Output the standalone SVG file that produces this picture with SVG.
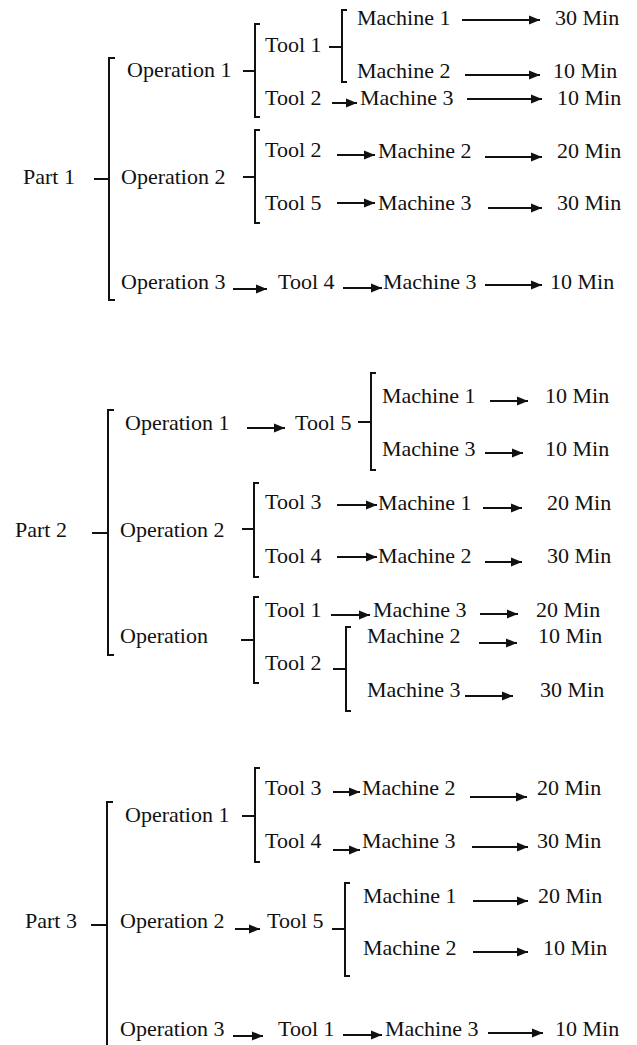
<svg xmlns="http://www.w3.org/2000/svg" width="637" height="1045" viewBox="0 0 637 1045">
<style>
.t text{font-family:'Liberation Serif','Times New Roman',Times,serif;font-size:22px;fill:#111}
.c{stroke:#111;stroke-width:2;fill:none}
.a{stroke:#111;stroke-width:2;fill:none;marker-end:url(#ah)}
</style>
<defs>
<marker id="ah" markerUnits="userSpaceOnUse" markerWidth="12" markerHeight="10" refX="11" refY="5" orient="auto">
<path d="M0,0.5 L11,5 L0,9.5 z" fill="#111"/>
</marker>
</defs>
<rect width="637" height="1045" fill="#fff"/>
<g id="connectors">
<path class="c" d="M94,179 H108"/>
<path class="c" d="M115,58 H109 V300 H115"/>
<path class="c" d="M243,71 H254"/>
<path class="c" d="M260,24 H255 V117 H260"/>
<path class="c" d="M329,47 H342"/>
<path class="c" d="M347,10 H342 V82 H347"/>
<path class="a" d="M462,20 H540"/>
<path class="a" d="M465,75 H540"/>
<path class="a" d="M332,103 H357"/>
<path class="a" d="M467,99 H542"/>
<path class="c" d="M243,177 H254"/>
<path class="c" d="M260,130 H255 V223 H260"/>
<path class="a" d="M337,155 H375"/>
<path class="a" d="M485,157 H542"/>
<path class="a" d="M337,203 H375"/>
<path class="a" d="M488,208 H542"/>
<path class="a" d="M233,289 H267"/>
<path class="a" d="M343,288 H382"/>
<path class="a" d="M485,285 H542"/>
<path class="c" d="M92,533 H108"/>
<path class="c" d="M114,410 H108 V655 H114"/>
<path class="a" d="M247,428 H285"/>
<path class="c" d="M358,422 H371"/>
<path class="c" d="M376,373 H371 V470 H376"/>
<path class="a" d="M490,401 H528"/>
<path class="a" d="M485,453 H523"/>
<path class="c" d="M242,529 H254"/>
<path class="c" d="M259,483 H254 V577 H259"/>
<path class="a" d="M337,505 H377"/>
<path class="a" d="M483,508 H522"/>
<path class="a" d="M337,557 H377"/>
<path class="a" d="M485,562 H522"/>
<path class="c" d="M241,640 H254"/>
<path class="c" d="M259,597 H254 V683 H259"/>
<path class="a" d="M331,615 H370"/>
<path class="a" d="M480,614 H518"/>
<path class="c" d="M333,669 H346"/>
<path class="c" d="M351,627 H346 V711 H351"/>
<path class="a" d="M479,643 H517"/>
<path class="a" d="M465,696 H513"/>
<path class="c" d="M91,925 H107"/>
<path class="c" d="M113,802 H107 V1045"/>
<path class="c" d="M242,816 H255"/>
<path class="c" d="M260,768 H255 V862 H260"/>
<path class="a" d="M333,792 H360"/>
<path class="a" d="M470,797 H527"/>
<path class="a" d="M333,850 H360"/>
<path class="a" d="M472,847 H528"/>
<path class="a" d="M235,929 H260"/>
<path class="c" d="M332,929 H345"/>
<path class="c" d="M350,883 H345 V976 H350"/>
<path class="a" d="M473,901 H528"/>
<path class="a" d="M473,952 H528"/>
<path class="a" d="M233,1036 H263"/>
<path class="a" d="M343,1035 H382"/>
<path class="a" d="M488,1033 H543"/>
</g>
<g class="t" font-family="Liberation Serif, Times New Roman, serif" font-size="22">
<g id="p1"><text x="23" y="184">Part 1</text></g>
<g id="p1-op1"><text x="127" y="77">Operation 1</text></g>
<g id="p1-op1-t1"><text x="265" y="52">Tool 1</text></g>
<g id="p1-op1-t1-m1"><text x="357" y="25">Machine 1</text></g>
<g id="p1-op1-t1-m1-time"><text x="555" y="25">30 Min</text></g>
<g id="p1-op1-t1-m2"><text x="357" y="78">Machine 2</text></g>
<g id="p1-op1-t1-m2-time"><text x="553" y="78">10 Min</text></g>
<g id="p1-op1-t2"><text x="265" y="105">Tool 2</text></g>
<g id="p1-op1-t2-m3"><text x="360" y="105">Machine 3</text></g>
<g id="p1-op1-t2-m3-time"><text x="557" y="105">10 Min</text></g>
<g id="p1-op2"><text x="121" y="184">Operation 2</text></g>
<g id="p1-op2-t2"><text x="265" y="157">Tool 2</text></g>
<g id="p1-op2-t2-m2"><text x="378" y="158">Machine 2</text></g>
<g id="p1-op2-t2-m2-time"><text x="557" y="158">20 Min</text></g>
<g id="p1-op2-t5"><text x="265" y="210">Tool 5</text></g>
<g id="p1-op2-t5-m3"><text x="378" y="210">Machine 3</text></g>
<g id="p1-op2-t5-m3-time"><text x="557" y="210">30 Min</text></g>
<g id="p1-op3"><text x="121" y="289">Operation 3</text></g>
<g id="p1-op3-t4"><text x="278" y="289">Tool 4</text></g>
<g id="p1-op3-t4-m3"><text x="383" y="289">Machine 3</text></g>
<g id="p1-op3-t4-m3-time"><text x="550" y="289">10 Min</text></g>
<g id="p2"><text x="15" y="537">Part 2</text></g>
<g id="p2-op1"><text x="125" y="430">Operation 1</text></g>
<g id="p2-op1-t5"><text x="295" y="430">Tool 5</text></g>
<g id="p2-op1-t5-m1"><text x="382" y="403">Machine 1</text></g>
<g id="p2-op1-t5-m1-time"><text x="545" y="403">10 Min</text></g>
<g id="p2-op1-t5-m3"><text x="382" y="456">Machine 3</text></g>
<g id="p2-op1-t5-m3-time"><text x="545" y="456">10 Min</text></g>
<g id="p2-op2"><text x="120" y="537">Operation 2</text></g>
<g id="p2-op2-t3"><text x="265" y="509">Tool 3</text></g>
<g id="p2-op2-t3-m1"><text x="378" y="510">Machine 1</text></g>
<g id="p2-op2-t3-m1-time"><text x="547" y="510">20 Min</text></g>
<g id="p2-op2-t4"><text x="265" y="563">Tool 4</text></g>
<g id="p2-op2-t4-m2"><text x="378" y="563">Machine 2</text></g>
<g id="p2-op2-t4-m2-time"><text x="547" y="563">30 Min</text></g>
<g id="p2-op3"><text x="120" y="643">Operation</text></g>
<g id="p2-op3-t1"><text x="265" y="617">Tool 1</text></g>
<g id="p2-op3-t1-m3"><text x="373" y="617">Machine 3</text></g>
<g id="p2-op3-t1-m3-time"><text x="536" y="617">20 Min</text></g>
<g id="p2-op3-t2"><text x="265" y="670">Tool 2</text></g>
<g id="p2-op3-t2-m2"><text x="367" y="643">Machine 2</text></g>
<g id="p2-op3-t2-m2-time"><text x="538" y="643">10 Min</text></g>
<g id="p2-op3-t2-m3"><text x="367" y="697">Machine 3</text></g>
<g id="p2-op3-t2-m3-time"><text x="540" y="697">30 Min</text></g>
<g id="p3"><text x="25" y="928">Part 3</text></g>
<g id="p3-op1"><text x="125" y="822">Operation 1</text></g>
<g id="p3-op1-t3"><text x="265" y="795">Tool 3</text></g>
<g id="p3-op1-t3-m2"><text x="362" y="795">Machine 2</text></g>
<g id="p3-op1-t3-m2-time"><text x="537" y="795">20 Min</text></g>
<g id="p3-op1-t4"><text x="265" y="848">Tool 4</text></g>
<g id="p3-op1-t4-m3"><text x="362" y="848">Machine 3</text></g>
<g id="p3-op1-t4-m3-time"><text x="537" y="848">30 Min</text></g>
<g id="p3-op2"><text x="120" y="928">Operation 2</text></g>
<g id="p3-op2-t5"><text x="267" y="928">Tool 5</text></g>
<g id="p3-op2-t5-m1"><text x="363" y="903">Machine 1</text></g>
<g id="p3-op2-t5-m1-time"><text x="538" y="903">20 Min</text></g>
<g id="p3-op2-t5-m2"><text x="363" y="955">Machine 2</text></g>
<g id="p3-op2-t5-m2-time"><text x="543" y="955">10 Min</text></g>
<g id="p3-op3"><text x="120" y="1036">Operation 3</text></g>
<g id="p3-op3-t1"><text x="278" y="1036">Tool 1</text></g>
<g id="p3-op3-t1-m3"><text x="385" y="1036">Machine 3</text></g>
<g id="p3-op3-t1-m3-time"><text x="555" y="1036">10 Min</text></g>
</g>
</svg>
